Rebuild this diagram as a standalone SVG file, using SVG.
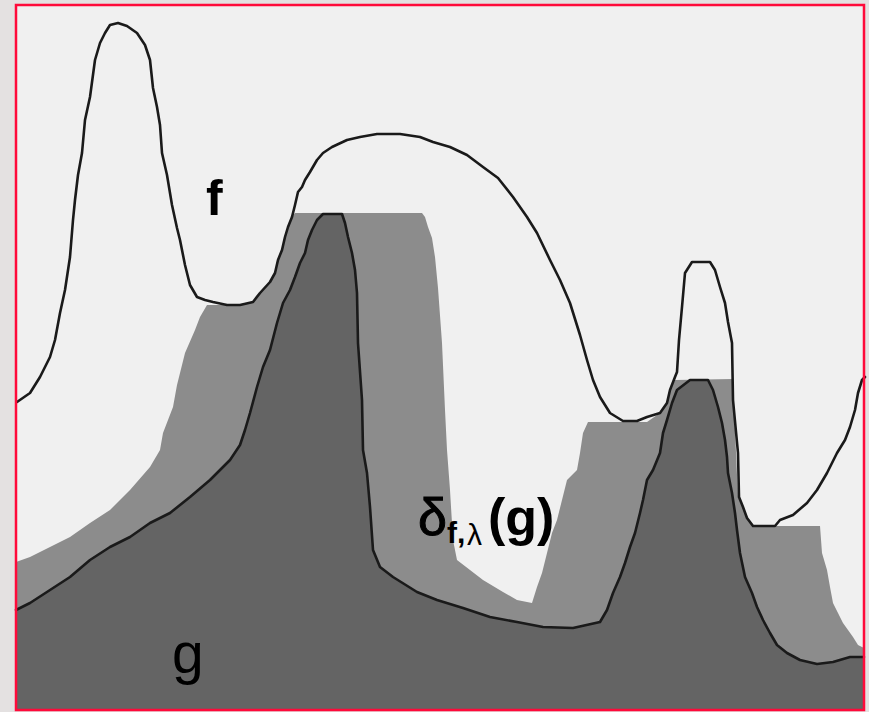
<svg xmlns="http://www.w3.org/2000/svg" width="869" height="712" viewBox="0 0 869 712">
<style>
.line{fill:none;stroke:#1a1a1a;stroke-width:2.6;stroke-linejoin:round;stroke-linecap:round}
.lbl{font-family:"Liberation Sans",Arial,sans-serif;fill:#000}
</style>
<rect x="0" y="0" width="869" height="712" fill="#e4e1e1"/>
<rect x="16" y="5" width="848" height="705" fill="#f0f0f0"/>
<g id="delta">
<polygon fill="#8c8c8c" points="16,562 30,557 50,547 70,537 90,523 110,510 130,490 150,467 160,450 163,433 173,407 177,385 185,353 195,330 200,317 207,305 240,305 253,302 260,293 270,282 275,273 278,260 282,250 285,237 288,227 292,217 295,213 422,213 425,217 428,227 432,238 435,257 438,288 442,343 445,410 447,450 450,490 453,540 457,560 470,570 483,580 503,592 517,600 532,603 537,587 542,573 547,553 552,533 557,520 562,500 567,480 577,470 580,453 583,433 588,422 647,422 660,413 667,403 670,390 675,380 733,379 735,430 738,497 743,507 747,518 753,526 820,526 822,553 827,570 830,587 833,603 838,613 843,623 848,630 853,637 858,645 864,648 864,711 16,711"/>
</g>
<g id="g">
<polygon fill="#646464" points="16,610 30,603 50,590 70,577 90,560 110,547 130,537 150,523 170,513 190,497 210,480 230,460 240,445 245,430 250,413 257,387 263,367 270,350 277,323 283,303 290,290 295,277 300,263 305,253 308,240 312,230 317,220 323,214 342,214 345,223 348,237 352,253 355,270 357,293 358,343 362,400 363,450 367,473 370,507 373,550 380,567 393,577 417,592 437,600 463,608 490,617 517,622 543,627 573,628 600,622 607,610 613,593 620,577 625,563 630,547 635,533 640,513 643,500 647,480 653,470 660,453 663,433 667,420 672,403 677,390 690,380 708,380 713,390 718,407 722,423 725,440 727,457 728,473 732,493 735,513 737,530 740,553 745,577 752,593 757,607 763,620 770,633 777,645 787,653 800,660 817,664 833,662 850,657 864,657 864,711 16,711"/>
<polyline class="line" points="16,610 30,603 50,590 70,577 90,560 110,547 130,537 150,523 170,513 190,497 210,480 230,460 240,445 245,430 250,413 257,387 263,367 270,350 277,323 283,303 290,290 295,277 300,263 305,253 308,240 312,230 317,220 323,214 342,214 345,223 348,237 352,253 355,270 357,293 358,343 362,400 363,450 367,473 370,507 373,550 380,567 393,577 417,592 437,600 463,608 490,617 517,622 543,627 573,628 600,622 607,610 613,593 620,577 625,563 630,547 635,533 640,513 643,500 647,480 653,470 660,453 663,433 667,420 672,403 677,390 690,380 708,380 713,390 718,407 722,423 725,440 727,457 728,473 732,493 735,513 737,530 740,553 745,577 752,593 757,607 763,620 770,633 777,645 787,653 800,660 817,664 833,662 850,657 864,657"/>
</g>
<g id="f">
<polyline class="line" points="17,402 30,393 40,377 50,357 55,340 60,313 65,290 70,257 73,220 75,200 78,175 82,153 85,120 90,97 95,60 100,43 105,33 110,25 118,23 127,26 137,33 145,45 150,60 153,88 157,107 160,125 162,153 167,175 172,205 177,228 180,240 185,265 190,285 197,297 205,300 213,302 227,305 240,305 253,302 260,293 270,282 275,273 278,260 282,250 285,237 288,227 292,217 295,205 298,192 302,187 305,180 310,172 317,160 323,153 332,147 347,140 360,137 377,134 400,134 420,137 433,142 450,147 467,155 483,167 498,178 513,197 527,217 537,233 550,260 560,280 570,303 580,335 587,360 593,380 600,397 610,413 623,421 637,421 647,417 660,413 667,403 670,390 675,377 677,372 679,340 682,307 685,273 692,262 710,262 715,270 720,287 725,303 728,322 732,343 733,400 738,453 739,497 743,507 747,518 753,526 775,526 780,520 793,515 807,503 817,490 827,473 837,453 845,440 850,427 855,410 858,393 862,380 865,377"/>
</g>
<g id="labels">
<text class="lbl" x="206" y="215" font-size="50" font-weight="bold">f</text>
<text class="lbl" x="172" y="673" font-size="57">g</text>
<text class="lbl" x="418" y="535" font-size="52" stroke="#000" stroke-width="1">δ</text>
<text class="lbl" x="447" y="543" font-size="30" font-weight="bold">f,</text>
<text class="lbl" x="467" y="545" font-size="30">λ</text>
<text class="lbl" x="488" y="535" font-size="52" font-weight="bold">(g)</text>
</g>
<rect x="16" y="5" width="848" height="705" fill="none" stroke="#ff0a3a" stroke-width="2.5"/>
</svg>
